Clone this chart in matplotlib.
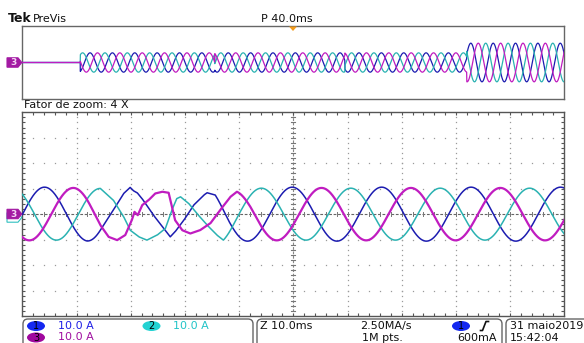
import numpy as np
import matplotlib
matplotlib.use("Agg")
import matplotlib.pyplot as plt
from matplotlib.patches import Polygon, Ellipse, FancyBboxPatch

W, H = 584, 343

# ---------------- data ----------------
channels = ["1", "2", "3"]
channel_scale = ["10.0 A", "10.0 A", "10.0 A"]
trace_colors = ["#1c1cb0", "#2ab2b2", "#c01cc0"]

# main (zoomed) window: 10 ms/div, 10 A/div
main_xlim = (-50, 50)
main_ylim = (-40, 40)
amplitude = [10.6, 10.2, 10.3]          # peak current per channel (A)
pre_period = 16.2                        # ms, before the disturbance
pre_peak_ms = [-45.9, -35.6, -40.6]      # time of a peak, per channel
post_period = 16.5                       # ms, after the disturbance
post_peak_ms = [-0.2, 10.6, 5.2]

# disturbed stretch, read point by point
dist_t_1 = [-35.6, -33.2, -31.3, -30.1, -29.5, -28.8, -27.9, -25.8, -23.9, -22.7,
            -21.8, -20.2, -18.4, -16.5, -15.9, -14.4]
dist_v_1 = [-6.3, 1.6, 8.1, 10.5, 9.2, 8.4, 6.1, -0.4, -5.6, -8.9,
            -6.9, -2.4, 3.5, 7.5, 8.4, 7.5]
dist_t_2 = [-35.6, -33.2, -31.3, -30.1, -28.5, -27.0, -25.1, -23.6, -22.4, -21.5,
            -20.8, -19.3, -17.8, -15.9, -14.1, -12.9]
dist_v_2 = [10.1, 5.5, -1.0, -6.3, -8.9, -10.2, -8.2, -5.6, 1.6, 6.1,
            6.8, 4.2, 0.3, -4.3, -8.2, -10.2]
dist_t_3 = [-35.6, -34.1, -32.5, -31.0, -29.8, -29.5, -29.3, -28.7, -27.9, -26.7,
            -25.5, -24.2, -23.0, -22.4, -21.8, -20.5, -19.0, -17.2, -15.3, -13.5,
            -11.6, -10.4]
dist_v_3 = [-4.3, -8.9, -10.2, -8.2, -2.4, -0.4, 0.9, -0.4, 3.5, 5.5,
            8.1, 8.8, 8.4, 2.9, -2.4, -6.3, -7.6, -6.3, -3.6, 1.6,
            6.8, 8.8]
dist_t = [dist_t_1, dist_t_2, dist_t_3]
dist_v = [dist_v_1, dist_v_2, dist_v_3]

# overview (PreVis) window, 4x wider
ov_xlim = (0, 400)
ov_ylim = (-40, 40)
ov_start_ms = 42.8
ov_step_ms = 328.0
ov_amp = [10.5, 21.0]
ov_period = 16.5
ov_peak_ms = [50.0, 61.0, 55.5]
ov_phase_jump_ms = [142.0, 238.0]
ov_phase_jump_size = [3.0, -2.5]

# texts
top_left = "PreVis"
pos_label = "P 40.0ms"
zoom_label = "Fator de zoom: 4 X"
timebase = "Z 10.0ms"
sample_rate = "2.50MA/s"
record_len = "1M pts."
trig_level = "600mA"
date_txt = "31 maio2019"
time_txt = "15:42:04"

# ---------------- figure ----------------
fig = plt.figure(figsize=(W / 100, H / 100), dpi=100)
fig.patch.set_facecolor("white")


def fr(x0, y0, x1, y1):
    return [x0 / W, 1 - y1 / H, (x1 - x0) / W, (y1 - y0) / H]


def build_trace(t, i):
    kt, kv = np.array(dist_t[i]), np.array(dist_v[i])
    a = amplitude[i]
    pre = a * np.cos(2 * np.pi * (t - pre_peak_ms[i]) / pre_period)
    post = a * np.cos(2 * np.pi * (t - post_peak_ms[i]) / post_period)
    mid = np.interp(t, kt, kv)
    y = np.where(t < kt[0], pre, np.where(t > kt[-1], post, mid))
    d0 = kv[0] - a * np.cos(2 * np.pi * (kt[0] - pre_peak_ms[i]) / pre_period)
    d1 = kv[-1] - a * np.cos(2 * np.pi * (kt[-1] - post_peak_ms[i]) / post_period)
    fade = 2.5
    y = y + d0 * np.clip(1 - (kt[0] - t) / fade, 0, 1) * (t < kt[0])
    y = y + d1 * np.clip(1 - (t - kt[-1]) / fade, 0, 1) * (t > kt[-1])
    return y


def overview_trace(t, i):
    shift = np.zeros_like(t)
    for tj, dj in zip(ov_phase_jump_ms, ov_phase_jump_size):
        shift = shift + np.where(t > tj, dj, 0.0)
    amp = np.where(t < ov_start_ms, 0.0, np.where(t < ov_step_ms, ov_amp[0], ov_amp[1]))
    return amp * np.cos(2 * np.pi * (t - ov_peak_ms[i] - shift) / ov_period)


border = "#555555"
gridc = "#9a9a9a"

# ---- main axes ----
ax = fig.add_axes(fr(22.3, 112.3, 564.3, 316))
ax.set_xlim(*main_xlim)
ax.set_ylim(*main_ylim)
for s in ax.spines.values():
    s.set_color(border)
    s.set_linewidth(1.0)
ax.set_xticks(np.arange(-48, 49, 2))
ax.set_yticks(np.arange(-38, 39, 2))
ax.tick_params(direction="in", length=2.5, width=0.8, color=border,
               top=True, right=True, labelbottom=False, labelleft=False)

# dotted graticule
for gx in np.arange(-40, 41, 10):
    if gx == 0:
        continue
    ys = np.arange(-38, 39, 2)
    ax.plot(np.full_like(ys, gx, dtype=float), ys, ls="none", marker="s",
            ms=0.9, mew=0, color=gridc, zorder=1)
for gy in np.arange(-30, 31, 10):
    if gy == 0:
        continue
    xs = np.arange(-48, 49, 2)
    ax.plot(xs, np.full_like(xs, gy, dtype=float), ls="none", marker="s",
            ms=0.9, mew=0, color=gridc, zorder=1)
# center cross with ticks
ax.plot(main_xlim, [0, 0], color="#666666", lw=0.8, ls=(0, (2.5, 1.5)), zorder=1)
ax.plot([0, 0], main_ylim, color="#888888", lw=0.8, ls=(0, (2.5, 1.5)), zorder=1)
for xx in np.arange(-48, 49, 2):
    ax.plot([xx, xx], [-0.8, 0.8], color="#777777", lw=0.7, zorder=1)
for yy in np.arange(-38, 39, 2):
    ax.plot([-0.4, 0.4], [yy, yy], color="#777777", lw=0.8, zorder=1)

t = np.linspace(main_xlim[0], main_xlim[1], 3001)
widths = [1.1, 1.1, 1.6]
for i in [0, 1, 2]:
    ax.plot(t, build_trace(t, i), color=trace_colors[i], lw=widths[i], zorder=3 + i,
            solid_joinstyle="round")

# ---- overview axes ----
ov = fig.add_axes(fr(22.3, 25.7, 564.3, 99.3))
ov.set_xlim(*ov_xlim)
ov.set_ylim(*ov_ylim)
ov.set_xticks([])
ov.set_yticks([])
for s in ov.spines.values():
    s.set_color("#666666")
    s.set_linewidth(1.0)
to = np.linspace(ov_xlim[0], ov_xlim[1], 6001)
for i in [0, 1, 2]:
    ov.plot(to, overview_trace(to, i), color=trace_colors[i], lw=0.9, zorder=3 + i)

# ---- overlay in pixel coordinates ----
ol = fig.add_axes([0, 0, 1, 1])
ol.set_xlim(0, W)
ol.set_ylim(H, 0)
ol.axis("off")
ol.patch.set_alpha(0)

ol.text(8, 19, "Tek", fontsize=9, fontweight="bold", color="#111111",
        va="center", ha="left", family="DejaVu Sans")
ol.text(33, 19, top_left, fontsize=8, color="#111111", va="center", ha="left")
ol.text(287, 19, pos_label, fontsize=8, color="#111111", va="center", ha="center")
ol.add_patch(Polygon([(289, 26.5), (297, 26.5), (293, 31)], closed=True,
                     fc="#f29a1a", ec="none", zorder=10))
ol.text(24, 105, zoom_label, fontsize=8, color="#111111", va="center", ha="left")


def chan_marker(yc, fc, ec, txt, tc):
    pts = [(7, yc - 4.7), (18, yc - 4.7), (21.8, yc), (18, yc + 4.7), (7, yc + 4.7)]
    ol.add_patch(Polygon(pts, closed=True, fc=fc, ec=ec, lw=0.8, zorder=5))
    if txt:
        ol.text(13.5, yc + 0.3, txt, fontsize=6.5, fontweight="bold", color=tc,
                ha="center", va="center", zorder=6)


chan_marker(217.5, "white", "#30c0c0", "", None)
chan_marker(214, "#a31aa3", "#a31aa3", "3", "#f4d8f4")
chan_marker(62.5, "#a31aa3", "#a31aa3", "3", "#f4d8f4")

# bottom panels
for x0, x1 in [(23, 253), (257, 502), (506, 595)]:
    ol.add_patch(FancyBboxPatch((x0, 319), x1 - x0, 40,
                                boxstyle="round,pad=0,rounding_size=5",
                                fc="white", ec="#666666", lw=1.0, zorder=4))

ell_cols = ["#1428f0", "#22d2d2", "#a0089e"]
txt_cols = ["#2020e6", "#22c4c8", "#a010a0"]
ell_pos = [(36, 326), (151.5, 326), (36, 337.5)]
lab_pos = [(58, 326), (173, 326), (58, 337.5)]
for i in range(3):
    ol.add_patch(Ellipse(ell_pos[i], 18, 10, fc=ell_cols[i], ec="none", zorder=6))
    ol.text(ell_pos[i][0], ell_pos[i][1] + 0.3, channels[i], fontsize=7, color="black",
            ha="center", va="center", zorder=7)
    ol.text(lab_pos[i][0], lab_pos[i][1], channel_scale[i], fontsize=8, color=txt_cols[i],
            ha="left", va="center", zorder=7)

ol.text(260, 326, timebase, fontsize=8, color="#111111", ha="left", va="center", zorder=7)
ol.text(360, 326, sample_rate, fontsize=8, color="#111111", ha="left", va="center", zorder=7)
ol.text(362, 338, record_len, fontsize=8, color="#111111", ha="left", va="center", zorder=7)
ol.add_patch(Ellipse((461, 326), 18, 10, fc=ell_cols[0], ec="none", zorder=6))
ol.text(461, 326.3, "1", fontsize=7, color="black", ha="center", va="center", zorder=7)
ol.plot([480.5, 482.5, 486, 488.5], [330.5, 330.5, 321.5, 321.5], color="#111111",
        lw=1.2, zorder=7)
ol.text(497, 338, trig_level, fontsize=8, color="#111111", ha="right", va="center", zorder=7)
ol.text(510, 326, date_txt, fontsize=8, color="#111111", ha="left", va="center", zorder=7)
ol.text(510, 338, time_txt, fontsize=8, color="#111111", ha="left", va="center", zorder=7)

fig.savefig("out.png", dpi=100, facecolor="white")
